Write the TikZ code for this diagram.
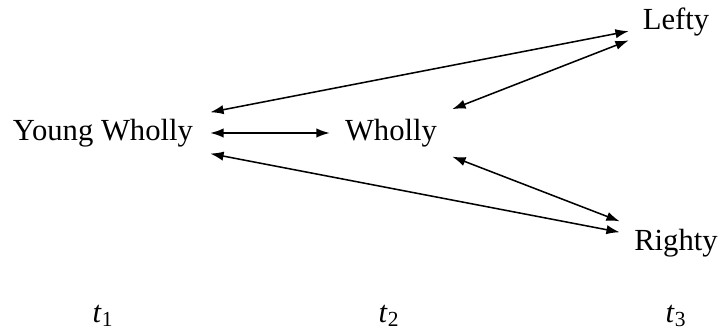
\documentclass[tikz,border=0pt]{standalone}
\usepackage{fontspec}
\setmainfont{Liberation Serif}
\usetikzlibrary{arrows.meta}
\begin{document}
\begin{tikzpicture}[x=0.75pt,y=-0.75pt,
  lbl/.style={inner sep=0pt, font=\fontsize{23}{27}\selectfont},
  dbl/.style={{Latex[length=10pt,width=7pt]}-{Latex[length=10pt,width=7pt]}, line width=1.15pt}]
\useasboundingbox (0,0) rectangle (721,331);
\node[lbl, minimum width=160.5pt, minimum height=36pt] (yw) at (103,133) {Young Wholly};
\node[lbl, minimum width=91.5pt, minimum height=39pt] (w) at (391,133) {Wholly};
\node[lbl, minimum width=70.5pt, minimum height=31.5pt] (lefty) at (676,22) {Lefty};
\node[lbl, minimum width=84pt, minimum height=36pt] (righty) at (676,243) {Righty};
\node[lbl, anchor=base] (t1) at (103,322) {\textit{t}\textsubscript{1}};
\node[lbl, anchor=base] (t2) at (389,322) {\textit{t}\textsubscript{2}};
\node[lbl, anchor=base] (t3) at (676,322) {\textit{t}\textsubscript{3}};
\draw[dbl] (yw) -- (w);
\draw[dbl] (yw) -- (lefty);
\draw[dbl] (yw) -- (righty);
\draw[dbl] (w) -- (lefty);
\draw[dbl] (w) -- (righty);
\end{tikzpicture}
\end{document}
